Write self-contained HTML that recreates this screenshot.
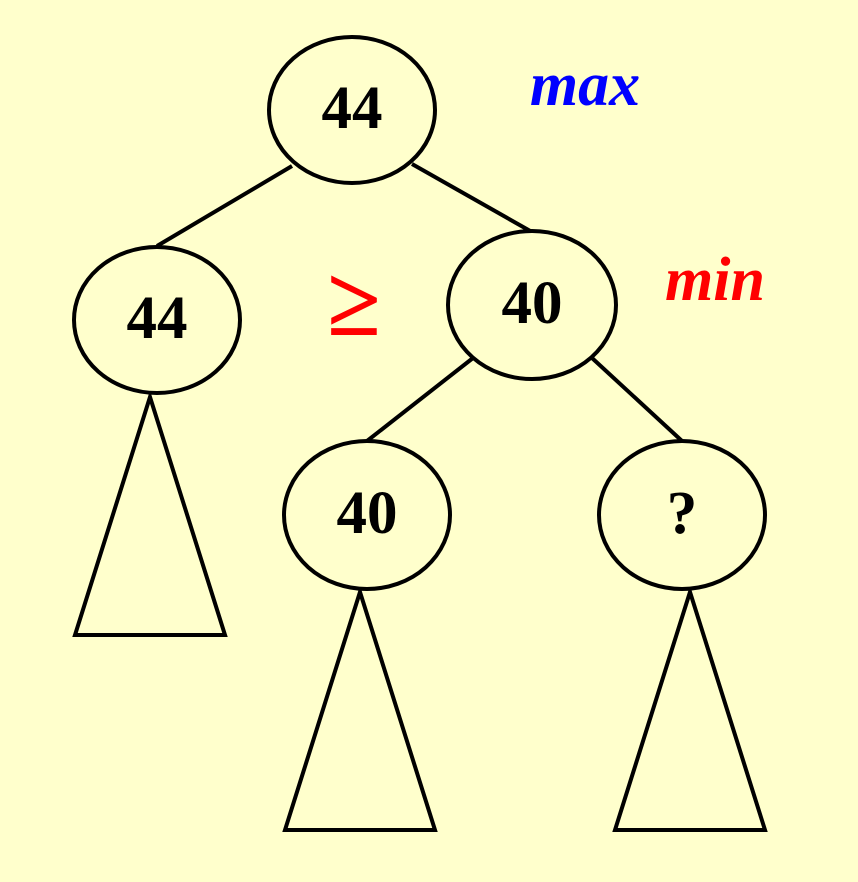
<!DOCTYPE html>
<html><head><meta charset="utf-8"><style>
html,body{margin:0;padding:0;background:#FFFFCC;}
svg{display:block;}
text{font-family:"Liberation Serif",serif;font-weight:bold;}
</style></head><body>
<svg width="858" height="882" viewBox="0 0 858 882" xmlns="http://www.w3.org/2000/svg">
<rect width="858" height="882" fill="#FFFFCC"/>
<g stroke="#000" stroke-width="4" fill="none">
<line x1="292" y1="166" x2="157" y2="246"/>
<line x1="412" y1="164" x2="532" y2="232"/>
<line x1="473" y1="358" x2="367" y2="441"/>
<line x1="592" y1="358" x2="682" y2="441"/>
<polygon points="150,397 75,635 225,635"/>
<polygon points="360,592 285,830 435,830"/>
<polygon points="690,592 615,830 765,830"/>
<ellipse cx="352" cy="110" rx="83" ry="73" fill="#FFFFCC"/>
<ellipse cx="157" cy="320" rx="83" ry="73" fill="#FFFFCC"/>
<ellipse cx="532" cy="305" rx="84" ry="74" fill="#FFFFCC"/>
<ellipse cx="367" cy="515" rx="83" ry="74" fill="#FFFFCC"/>
<ellipse cx="682" cy="515" rx="83" ry="74" fill="#FFFFCC"/>
</g>
<g font-size="61" text-anchor="middle" fill="#000">
<text x="352" y="128">44</text>
<text x="157" y="338">44</text>
<text x="532" y="323">40</text>
<text x="367" y="533">40</text>
<text x="682" y="533">?</text>
</g>
<text x="585" y="105" font-size="62" font-style="italic" fill="#0000FF" text-anchor="middle">max</text>
<text x="715" y="300" font-size="62" font-style="italic" fill="#FF0000" text-anchor="middle">min</text>
<text x="354" y="335" font-size="98" font-weight="normal" fill="#FF0000" text-anchor="middle">≥</text>
</svg>
</body></html>
